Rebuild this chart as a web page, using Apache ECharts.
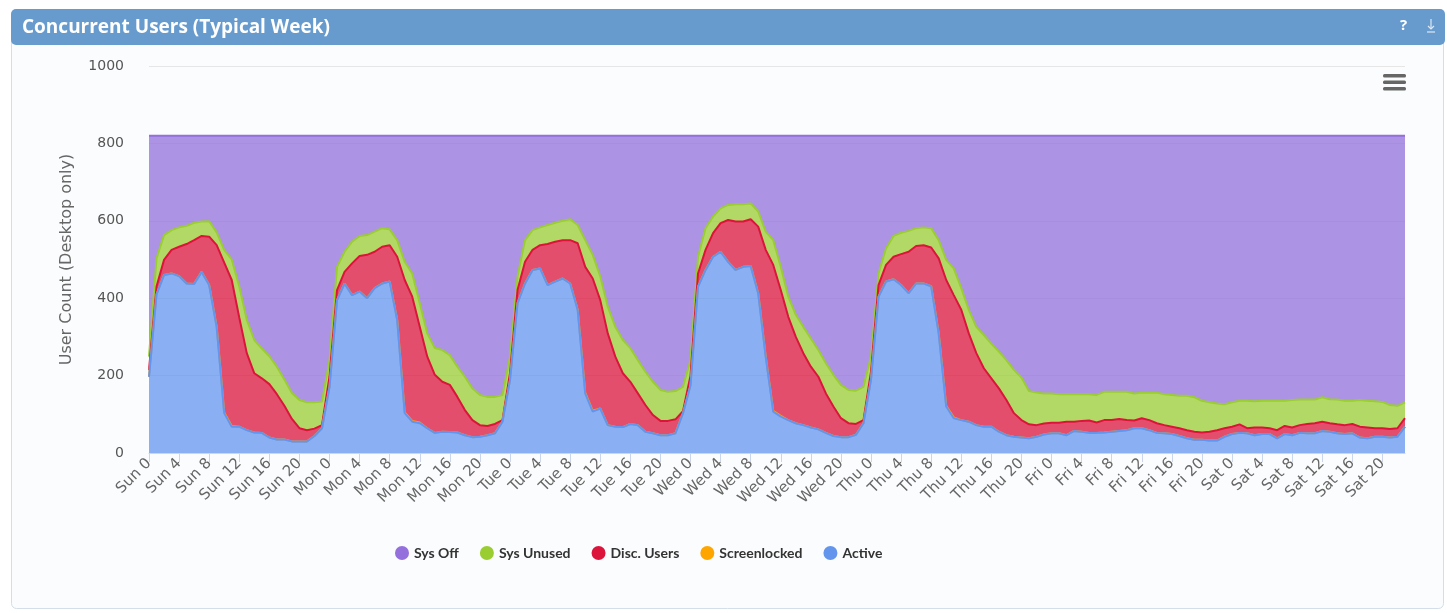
<!DOCTYPE html>
<html>
<head>
<meta charset="utf-8">
<script src="https://cdn.jsdelivr.net/npm/echarts@6/dist/echarts.min.js"></script>
<style>
html,body{margin:0;padding:0;background:#ffffff;}
#chart{width:1447px;height:613px;}
</style>
</head>
<body>
<div id="chart"></div>
<script>
var days = ['Sun','Mon','Tue','Wed','Thu','Fri','Sat'];
var hoursPerDay = 24;
var seriesNames = ['Sys Off','Sys Unused','Disc. Users','Screenlocked','Active'];
var yTicks = [0, 200, 400, 600, 800, 1000];

var active = [
  197,410,460,464,457,438,437,468,434,326,103,68,68,59,53,52,40,35,35,30,30,30,44,64,
  171,395,438,408,417,400,426,438,443,344,103,81,77,64,52,55,54,53,46,41,42,46,51,81,
  189,387,438,473,477,434,443,451,438,370,154,107,115,72,68,67,75,72,55,51,46,46,51,103,
  175,430,473,507,520,494,473,481,483,413,249,107,94,85,77,72,66,61,52,44,41,41,47,77,
  190,404,443,449,434,413,438,438,431,309,120,90,85,81,72,68,68,55,46,42,40,38,42,48,
  51,51,46,57,55,52,52,53,55,57,59,64,64,59,52,51,49,44,38,34,34,32,32,42,
  49,52,51,46,49,49,38,49,46,52,51,51,57,55,51,49,51,40,38,42,42,40,42,68
];
var screenlocked = [
  0,0,0,0,0,0,0,0,0,0,2,2,0,0,0,0,0,0,0,0,0,0,0,0,
  0,0,0,0,0,0,0,0,0,0,2,2,2,0,0,0,0,0,0,0,0,0,0,0,
  0,0,0,0,0,0,0,0,0,0,2,2,0,0,0,0,0,0,0,0,0,0,0,0,
  0,0,0,0,0,0,0,0,0,0,0,2,2,0,0,0,0,0,0,0,0,0,0,0,
  0,0,0,0,0,0,0,0,0,0,2,2,0,0,0,0,0,0,0,0,0,0,0,0,
  0,0,0,0,0,0,0,0,0,0,0,0,0,0,0,0,0,0,0,0,0,0,0,0,
  0,0,0,0,0,0,0,0,0,0,0,0,0,0,0,0,0,0,0,0,0,0,0,0
];
var discUsers = [
  17,20,39,61,76,102,113,93,125,211,387,377,282,199,153,141,138,117,87,58,34,29,19,8,
  26,26,30,82,92,112,94,95,94,163,342,321,247,185,150,129,122,92,65,44,30,24,24,4,
  17,34,56,52,60,106,103,99,112,172,325,342,280,237,181,139,109,82,69,47,37,37,36,5,
  25,34,52,61,74,108,125,117,121,172,276,377,325,267,223,186,157,136,102,76,49,36,28,8,
  20,30,43,58,80,107,97,99,100,194,325,316,285,228,186,151,125,112,91,61,45,36,30,28,
  27,27,35,24,28,32,27,32,30,31,26,20,26,26,25,21,19,20,21,21,19,23,27,22,
  19,22,13,20,17,15,21,21,20,20,24,26,24,22,23,23,24,28,28,22,22,22,22,22
];
var sysUnused = [
  35,73,64,51,50,47,45,37,40,33,33,53,80,86,86,77,72,71,68,67,73,72,68,61,
  43,60,52,56,52,51,52,48,41,43,47,60,61,60,69,82,77,78,86,82,78,75,70,65,
  43,35,56,51,46,49,49,50,54,47,69,61,61,69,77,86,87,86,86,86,80,75,73,63,
  40,43,56,43,38,39,45,45,41,39,47,64,60,52,57,68,73,69,78,82,86,86,86,86,
  40,30,43,54,55,54,46,46,50,47,52,69,56,61,68,86,90,95,103,112,110,86,84,78,
  76,74,71,71,69,68,71,73,73,70,73,70,66,71,79,80,82,84,89,89,82,76,69,62,
  63,61,71,68,69,71,76,65,71,66,63,61,63,62,64,63,60,69,69,70,68,62,58,41
];
var sysOff = [
  571,317,257,244,237,233,225,222,221,250,295,320,390,476,528,550,570,597,630,665,683,689,689,687,
  580,339,300,274,259,257,248,239,242,270,326,356,433,511,549,554,567,597,623,653,670,675,675,670,
  571,364,270,244,237,231,225,220,216,231,270,308,364,442,494,528,549,580,610,636,657,662,660,649,
  580,313,239,209,188,179,177,177,175,196,248,270,339,416,463,494,524,554,588,618,644,657,659,649,
  570,356,291,259,251,246,239,237,239,270,321,343,394,450,494,515,537,558,580,605,625,660,664,666,
  666,668,668,668,668,668,670,662,662,662,662,666,664,664,664,668,670,672,672,676,685,689,692,694,
  689,685,685,686,685,685,685,685,683,682,682,682,676,681,682,685,685,683,685,686,688,696,698,689
];

var categories = [];
days.forEach(function (d) {
  for (var h = 0; h < hoursPerDay; h++) categories.push(d + ' ' + h);
});

var colors = {
  'Sys Off': '#9370DB',
  'Sys Unused': '#9ACD32',
  'Disc. Users': '#DC143C',
  'Screenlocked': '#FFA500',
  'Active': '#6495ED'
};

function areaSeries(name, data, z) {
  return {
    name: name,
    type: 'line',
    stack: 'total',
    data: data,
    showSymbol: false,
    symbol: 'circle',
    smooth: false,
    z: z,
    lineStyle: { width: 2, color: colors[name] },
    itemStyle: { color: colors[name] },
    areaStyle: { color: colors[name], opacity: 0.75 },
    emphasis: { disabled: true }
  };
}

var chart = echarts.init(document.getElementById('chart'), null, { renderer: 'canvas' });
chart.setOption({
  animation: false,
  backgroundColor: '#ffffff',
  title: {
    text: 'Concurrent Users (Typical Week)',
    left: 17,
    top: 13,
    textStyle: { color: '#ffffff', fontWeight: 'bold', fontSize: 19, fontFamily: 'Open Sans' }
  },
  graphic: [
    { type: 'rect', z: -10, shape: { x: 11.5, y: 9.5, width: 1432, height: 599, r: 5 },
      style: { fill: '#fbfcfd', stroke: '#d3dee8', lineWidth: 1 } },
    { type: 'rect', z: -9, shape: { x: 11, y: 9, width: 1434, height: 36, r: 5 },
      style: { fill: '#679bcd' } },
    { type: 'text', z: 10, left: 1400, top: 18,
      style: { text: '?', fill: '#ffffff', font: 'bold 15px "Open Sans"' } },
    { type: 'polyline', z: 10, shape: { points: [[1431, 19], [1431, 29]] },
      style: { stroke: '#dde8f3', lineWidth: 1.2 } },
    { type: 'polyline', z: 10, shape: { points: [[1428, 26], [1431, 29], [1434, 26]] },
      style: { stroke: '#dde8f3', lineWidth: 1.2, fill: null } },
    { type: 'polyline', z: 10, shape: { points: [[1427, 32], [1435, 32]] },
      style: { stroke: '#dde8f3', lineWidth: 1.2 } },
    { type: 'rect', z: 10, shape: { x: 1383, y: 74, width: 23, height: 3.5, r: 1.5 }, style: { fill: '#666666' } },
    { type: 'rect', z: 10, shape: { x: 1383, y: 80.5, width: 23, height: 3.5, r: 1.5 }, style: { fill: '#666666' } },
    { type: 'rect', z: 10, shape: { x: 1383, y: 87, width: 23, height: 3.5, r: 1.5 }, style: { fill: '#666666' } }
  ],
  legend: {
    data: seriesNames,
    left: 390,
    top: 541,
    icon: 'circle',
    itemWidth: 14,
    itemHeight: 14,
    itemGap: 21,
    textStyle: { color: '#333333', fontWeight: 'bold', fontSize: 14, fontFamily: 'Lato' }
  },
  grid: { left: 149, right: 42, top: 66, bottom: 160, containLabel: false },
  xAxis: {
    type: 'category',
    boundaryGap: false,
    data: categories,
    axisLine: { lineStyle: { color: '#ccd6eb', width: 1 } },
    axisTick: { show: true, interval: 3, length: 9, lineStyle: { color: '#ccd6eb' } },
    axisLabel: {
      interval: 3,
      rotate: 45,
      margin: 8,
      color: '#666666',
      fontSize: 15,
      fontFamily: 'DejaVu Sans'
    },
    splitLine: { show: false }
  },
  yAxis: {
    type: 'value',
    min: yTicks[0],
    max: yTicks[yTicks.length - 1],
    interval: yTicks[1] - yTicks[0],
    name: 'User Count (Desktop only)',
    nameLocation: 'middle',
    nameGap: 74,
    nameRotate: 90,
    nameTextStyle: { color: '#666666', fontSize: 16, fontFamily: 'DejaVu Sans' },
    axisLine: { show: false },
    axisTick: { show: false },
    axisLabel: {
      color: '#555555', fontSize: 14, margin: 25, fontFamily: 'DejaVu Sans',
      formatter: function (v) { return String(v); }
    },
    splitLine: { lineStyle: { color: '#e6e6e6', width: 1 } }
  },
  series: [
    areaSeries('Active', active, 6),
    areaSeries('Screenlocked', screenlocked, 5),
    areaSeries('Disc. Users', discUsers, 4),
    areaSeries('Sys Unused', sysUnused, 3),
    areaSeries('Sys Off', sysOff, 2)
  ]
});
</script>
</body>
</html>
